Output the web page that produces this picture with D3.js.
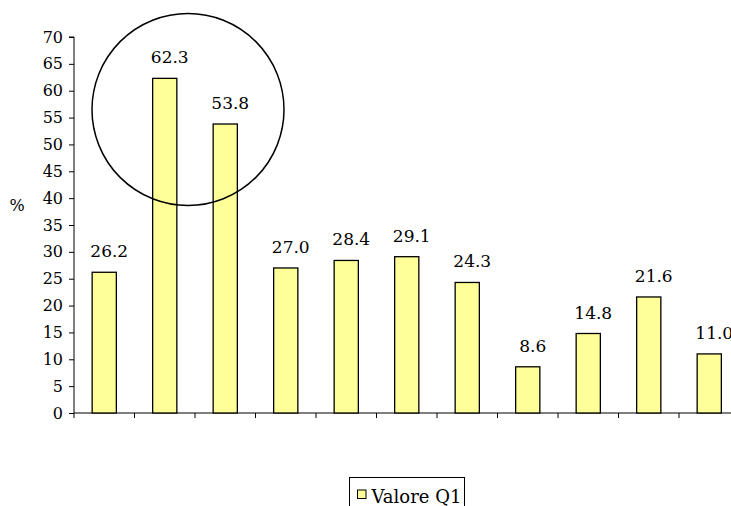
<!DOCTYPE html>
<html>
<head>
<meta charset="utf-8">
<script src="https://cdn.jsdelivr.net/npm/d3@7/dist/d3.min.js"></script>
<style>
  html, body { margin: 0; padding: 0; background: #fff; overflow: hidden; }
  svg { display: block; }
  svg text { font-family: "DejaVu Serif", "Liberation Serif", serif; }
</style>
</head>
<body>
<svg id="chart" width="731" height="506"></svg>
<script>
// Categories (unlabelled groups along the x axis)
const categories = ["c1","c2","c3","c4","c5","c6","c7","c8","c9","c10","c11"];
// Series "Valore Q1", percent
const valoreQ1 = [26.2, 62.3, 53.8, 27.0, 28.4, 29.1, 24.3, 8.6, 14.8, 21.6, 11.0];
// Y axis ticks
const yTicks = [0, 5, 10, 15, 20, 25, 30, 35, 40, 45, 50, 55, 60, 65, 70];
const seriesName = "Valore Q1";

const serif = "'DejaVu Serif', 'Liberation Serif', serif";
const svg = d3.select("#chart");
const plotLeft = 74, plotTop = 37, plotBottom = 413;
const band = 60.5;
const plotRight = plotLeft + band * categories.length;

const x = d3.scaleBand().domain(categories).range([plotLeft, plotRight]).paddingInner(0.6).paddingOuter(0.3);
const y = d3.scaleLinear().domain([0, 70]).range([plotBottom, plotTop]);

const barFill = "#FFFF99";

// Y axis
const yAxis = svg.append("g")
  .attr("transform", `translate(${plotLeft},0)`)
  .call(d3.axisLeft(y).tickValues(yTicks).tickSize(5).tickPadding(6).tickFormat(d3.format("d")));
yAxis.attr("font-family", serif).attr("font-size", 16);
yAxis.select(".domain").attr("stroke", "#000").attr("d", `M-5,${plotTop}H0V${plotBottom}`);
yAxis.selectAll("line").attr("stroke", "#000");
yAxis.selectAll("text").attr("fill", "#000");

// X axis baseline with boundary ticks between categories
const xg = svg.append("g");
xg.append("line").attr("x1", plotLeft).attr("x2", plotRight).attr("y1", plotBottom).attr("y2", plotBottom)
  .attr("stroke", "#000");
const bounds = d3.range(categories.length + 1).map(i => plotLeft + i * x.step());
xg.selectAll("line.tick").data(bounds).join("line").attr("class", "tick")
  .attr("x1", d => d).attr("x2", d => d).attr("y1", plotBottom).attr("y2", plotBottom + 5)
  .attr("stroke", "#000");

// Bars
svg.append("g").selectAll("rect").data(valoreQ1).join("rect")
  .attr("x", (d, i) => x(categories[i]))
  .attr("y", d => y(d))
  .attr("width", x.bandwidth())
  .attr("height", d => plotBottom - y(d))
  .attr("fill", barFill)
  .attr("stroke", "#000")
  .attr("stroke-width", 1.3);

// Value labels
svg.append("g").selectAll("text").data(valoreQ1).join("text")
  .attr("x", (d, i) => x(categories[i]) + x.bandwidth() / 2 + 5)
  .attr("y", d => y(d) - 15)
  .attr("text-anchor", "middle")
  .attr("font-family", serif)
  .attr("font-size", 17)
  .attr("fill", "#000")
  .text(d => d.toFixed(1));

// Y axis title
svg.append("text").attr("x", 17).attr("y", 211).attr("text-anchor", "middle")
  .attr("font-family", serif).attr("font-size", 16).text("%");

// Highlight ring around the second and third bars
const cx = (x(categories[1]) + x(categories[2]) + x.bandwidth()) / 2 - 7;
svg.append("circle")
  .attr("cx", cx).attr("cy", y(56.5)).attr("r", 96)
  .attr("fill", "none").attr("stroke", "#000").attr("stroke-width", 1.5);

// Legend
const lg = svg.append("g").attr("transform", "translate(349.5,477.5)");
lg.append("rect").attr("x", 0).attr("y", 0).attr("width", 115).attr("height", 34)
  .attr("fill", "#fff").attr("stroke", "#000");
lg.append("rect").attr("x", 8).attr("y", 12.5).attr("width", 8.5).attr("height", 8.5)
  .attr("fill", barFill).attr("stroke", "#000");
lg.append("text").attr("x", 22).attr("y", 25).attr("font-family", serif)
  .attr("font-size", 18).text(seriesName);
</script>
</body>
</html>
